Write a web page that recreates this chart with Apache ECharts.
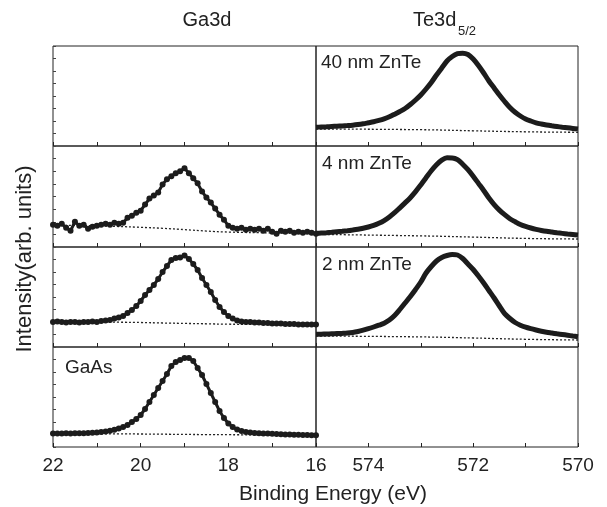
<!DOCTYPE html>
<html lang="en">
<head>
    <meta charset="UTF-8">
    <title>XPS Ga3d / Te3d5/2</title>
    <style>
        html, body { margin: 0; padding: 0; background: #fff; }
        #chart { width: 607px; height: 507px; }
    </style>
    <script src="https://cdn.jsdelivr.net/npm/echarts@6/dist/echarts.min.js"></script>
</head>
<body>
    <div id="chart"></div>
    <script>
        // binding energies (eV)
        const gaEnergy = [22.0, 21.9, 21.8, 21.7, 21.6, 21.5, 21.4, 21.3, 21.2, 21.1,
            21.0, 20.9, 20.8, 20.7, 20.6, 20.5, 20.4, 20.3, 20.2, 20.1,
            20.0, 19.9, 19.8, 19.7, 19.6, 19.5, 19.4, 19.3, 19.2, 19.1,
            19.0, 18.9, 18.8, 18.7, 18.6, 18.5, 18.4, 18.3, 18.2, 18.1,
            18.0, 17.9, 17.8, 17.7, 17.6, 17.5, 17.4, 17.3, 17.2, 17.1,
            17.0, 16.9, 16.8, 16.7, 16.6, 16.5, 16.4, 16.3, 16.2, 16.1, 16.0];
        const teEnergy = [575.0, 574.9, 574.8, 574.7, 574.6, 574.5, 574.4, 574.3, 574.2, 574.1,
            574.0, 573.9, 573.8, 573.7, 573.6, 573.5, 573.4, 573.3, 573.2, 573.1,
            573.0, 572.9, 572.8, 572.7, 572.6, 572.5, 572.4, 572.3, 572.2, 572.1,
            572.0, 571.9, 571.8, 571.7, 571.6, 571.5, 571.4, 571.3, 571.2, 571.1,
            571.0, 570.9, 570.8, 570.7, 570.6, 570.5, 570.4, 570.3, 570.2, 570.1, 570.0];
        const gaBgEnergy = [22, 21, 20.5, 20, 19.5, 19, 18.5, 18, 17, 16];
        const teBgEnergy = [575, 573, 572, 571, 570];

        // intensities (arb. units, 0-100 per panel)
        const ga4nm = [22, 21, 23, 19, 16, 25, 21, 22, 18, 20,
            21, 22, 23, 22, 24, 23, 24, 29, 31, 34,
            36, 42, 48, 51, 54, 62, 67, 70, 73, 75,
            78, 73, 68, 63, 55, 49, 44, 38, 32, 27,
            21, 19, 18, 19, 17, 18, 17, 18, 16, 18,
            15, 13, 16, 15, 16, 14, 15, 14, 15, 14, 13];
        const ga2nm = [25, 25.5, 25, 24.5, 25, 25, 24.5, 25, 25, 25.5,
            25, 26, 26.5, 27, 28.5, 29.5, 31, 34, 37, 41,
            46, 52, 57, 62, 68, 75, 81, 87, 89, 89.5,
            91.5, 88, 83, 77, 69, 62, 55, 47, 40, 35,
            31, 28.5, 26.5, 25.5, 25, 25, 24.5, 24.5, 24, 24,
            23.5, 23.5, 23.5, 23, 23, 23, 22.5, 22.5, 22.5, 22.5, 22.5];
        const gaGaAs = [13.5, 13.5, 13.5, 13.7, 13.5, 13.7, 13.8, 13.8, 14, 14.2,
            14.5, 15, 15.5, 16.3, 17.2, 18.5, 20, 22, 25, 28,
            32, 38, 45, 52, 59, 66, 73, 81, 85, 87,
            89, 89, 86, 79, 72, 63, 54, 45, 36, 29,
            23.5, 20, 17.5, 16, 15, 14.5, 14, 13.8, 13.6, 13.5,
            13.3, 13, 12.8, 12.6, 12.5, 12.3, 12.2, 12, 12, 11.8, 11.8];
        const te40nm = [18.7, 19, 19.2, 19.5, 19.8, 20.1, 20.4, 20.8, 21.4, 22.2,
            23.2, 24.2, 25.6, 27.2, 29.2, 31.8, 34.5, 37.5, 41.5, 46,
            51, 57, 63.5, 71, 78, 85, 89.5, 92.3, 92.8, 91.5,
            87, 80.5, 73, 65, 58, 51, 44.5, 38.5, 33.7, 30,
            27, 25, 23.2, 22, 21, 20.2, 19.5, 18.8, 18.2, 17.6, 17];
        const te4nm = [13.5, 13.8, 14.1, 14.5, 15, 15.5, 16.1, 16.8, 17.6, 18.6,
            19.8, 21.4, 23.5, 26.2, 29.8, 34, 38.8, 43.7, 48.8, 54.8,
            61.5, 68.5, 75.5, 81.5, 86, 88.3, 88.2, 86.5, 82, 76.5,
            70, 63, 56, 48.5, 42, 36.5, 32, 28, 25, 22.2,
            20.3, 18.8, 17.5, 16.4, 15.5, 14.8, 14.1, 13.5, 12.9, 12.4, 11.9];
        const te2nm = [12.7, 12.8, 13, 13.2, 13.4, 13.6, 13.9, 14.5, 15.5, 16.8,
            18.3, 20, 21.8, 23.8, 27, 31.5, 37.5, 44, 50.5, 57.5,
            65, 74, 80.5, 86, 89.5, 91.5, 92.5, 92, 88.5, 83,
            77.5, 71, 64, 56.5, 49, 41, 33.3, 28.5, 24.5, 21.8,
            19.8, 18.3, 17, 15.8, 14.8, 14, 13.2, 12.5, 11.8, 11, 10.3];

        // Shirley backgrounds (dotted)
        const ga4nmBg = [21.5, 21, 20.3, 19.5, 18.5, 17.2, 15.8, 14.8, 14, 13.5];
        const ga2nmBg = [25, 25, 24.8, 24.5, 24, 23.6, 23.2, 22.8, 22.5, 22.3];
        const gaGaAsBg = [13.3, 13.2, 13.1, 13, 12.8, 12.6, 12.4, 12.3, 12, 11.7];
        const te40nmBg = [17, 16.3, 15.2, 14.2, 13.7];
        const te4nmBg = [12.5, 11, 9.8, 8.5, 7.9];
        const te2nmBg = [11, 10.1, 9, 7.7, 7];

        const panelLabels = ['40 nm ZnTe', '4 nm ZnTe', '2 nm ZnTe', 'GaAs'];

        const font = 'Liberation Sans, Arial, sans-serif';
        const ink = '#1c1c1c';
        const rowTop = [46, 146, 247, 347];
        const rowH = [100, 101, 100, 100];

        function pairs(xs, ys) {
            return xs.map((x, i) => [x, ys[i]]);
        }

        // panels: [column, row, data, energy, bg, bgEnergy]
        const panels = [
            ['ga', 0, null, gaEnergy, null, gaBgEnergy],
            ['ga', 1, ga4nm, gaEnergy, ga4nmBg, gaBgEnergy],
            ['ga', 2, ga2nm, gaEnergy, ga2nmBg, gaBgEnergy],
            ['ga', 3, gaGaAs, gaEnergy, gaGaAsBg, gaBgEnergy],
            ['te', 0, te40nm, teEnergy, te40nmBg, teBgEnergy],
            ['te', 1, te4nm, teEnergy, te4nmBg, teBgEnergy],
            ['te', 2, te2nm, teEnergy, te2nmBg, teBgEnergy],
            ['te', 3, null, teEnergy, null, teBgEnergy]
        ];

        const grid = [], xAxis = [], yAxis = [], series = [];
        panels.forEach((p, i) => {
            const isGa = p[0] === 'ga';
            const row = p[1];
            grid.push({
                left: isGa ? 53 : 316, width: isGa ? 263 : 262,
                top: rowTop[row], height: rowH[row],
                show: true, borderColor: '#222', borderWidth: 1
            });
            xAxis.push({
                type: 'value', gridIndex: i, inverse: true,
                min: isGa ? 16 : 570, max: isGa ? 22 : 575, interval: 1,
                axisLine: { show: false },
                axisTick: { show: true, inside: true, length: 4, lineStyle: { color: '#222' } },
                splitLine: { show: false },
                axisLabel: {
                    show: row === 3, fontSize: 19, color: '#222', fontFamily: font, margin: 9,
                    formatter: v => (Math.round(v) % 2 === 0 ? String(Math.round(v)) : '')
                }
            });
            yAxis.push({
                type: 'value', gridIndex: i, min: 0, max: 100, interval: 12.5,
                axisLine: { show: false },
                axisTick: { show: isGa, inside: true, length: 3, lineStyle: { color: '#444' } },
                splitLine: { show: false },
                axisLabel: { show: false }
            });
            if (p[4]) {
                series.push({
                    type: 'line', xAxisIndex: i, yAxisIndex: i,
                    data: pairs(p[5], p[4]), smooth: true, showSymbol: false,
                    lineStyle: { color: '#222', width: 1.3, type: [2, 2] }, z: 1
                });
            }
            if (p[2]) {
                series.push(isGa ? {
                    type: 'line', xAxisIndex: i, yAxisIndex: i,
                    data: pairs(p[3], p[2]), symbol: 'circle', symbolSize: 6,
                    itemStyle: { color: ink }, lineStyle: { color: ink, width: 3 }, z: 3
                } : {
                    type: 'line', xAxisIndex: i, yAxisIndex: i,
                    data: pairs(p[3], p[2]), showSymbol: false, smooth: 0.3,
                    lineStyle: { color: ink, width: 5 }, z: 3
                });
            }
        });

        const txt = (x, y, text, size, align) => ({
            type: 'text', x: x, y: y,
            style: {
                text: text, fontSize: size, fontFamily: font, fill: '#222',
                align: align || 'left', verticalAlign: 'middle'
            }
        });

        const graphic = [
            txt(207, 20, 'Ga3d', 20, 'center'),
            txt(413, 20, 'Te3d', 20),
            txt(458, 31, '5/2', 13),
            txt(321, 63, panelLabels[0], 19),
            txt(322, 164, panelLabels[1], 19),
            txt(322, 265, panelLabels[2], 19),
            txt(65, 368, panelLabels[3], 19),
            txt(333, 494, 'Binding Energy (eV)', 21, 'center'),
            Object.assign(txt(25, 259, 'Intensity(arb. units)', 22, 'center'), { rotation: Math.PI / 2 })
        ];

        const chart = echarts.init(document.getElementById('chart'));
        chart.setOption({
            animation: false,
            backgroundColor: '#fff',
            grid: grid,
            xAxis: xAxis,
            yAxis: yAxis,
            series: series,
            graphic: graphic
        });
    </script>
</body>
</html>
